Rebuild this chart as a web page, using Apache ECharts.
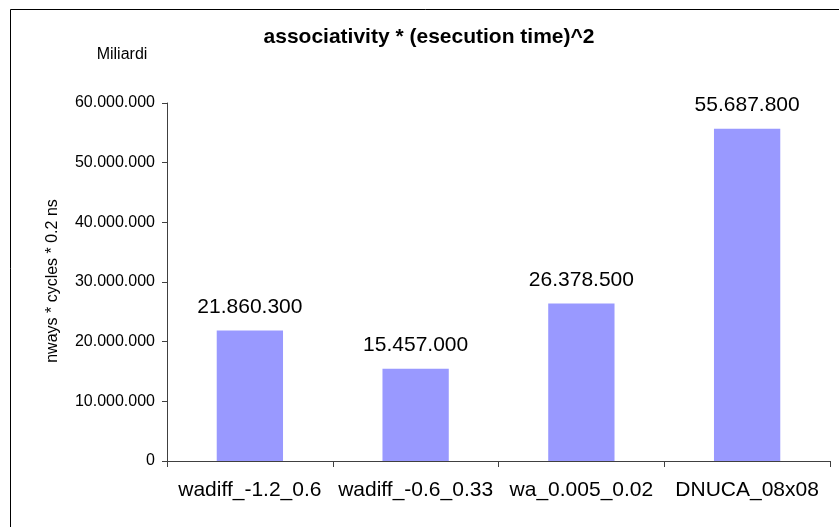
<!DOCTYPE html>
<html>
<head>
<meta charset="utf-8">
<script src="https://cdn.jsdelivr.net/npm/echarts@6/dist/echarts.min.js"></script>
<style>html,body{margin:0;padding:0;background:#fff}#c{width:839px;height:527px}</style>
</head>
<body>
<div id="c"></div>
<script>
var categories = ['wadiff_-1.2_0.6', 'wadiff_-0.6_0.33', 'wa_0.005_0.02', 'DNUCA_08x08'];
var values = [21860300, 15457000, 26378500, 55687800];
var yTicks = [0, 10000000, 20000000, 30000000, 40000000, 50000000, 60000000];
var titleText = 'associativity * (esecution time)^2';
var unitText = 'Miliardi';
var yName = 'nways * cycles * 0.2 ns';

function fmt(v) {
  return String(Math.round(v)).replace(/\B(?=(\d{3})+(?!\d))/g, '.');
}
var FONT = 'Liberation Sans, Arial, sans-serif';
var chart = echarts.init(document.getElementById('c'), null, {renderer: 'canvas'});
chart.setOption({
  animation: false,
  backgroundColor: '#fff',
  graphic: [
    {type: 'rect', left: 8, top: 7, shape: {x: 0, y: 0, width: 900, height: 700},
     style: {fill: 'none', stroke: '#000', lineWidth: 1}, silent: true, z: 100},
    {type: 'text', x: 429, y: 37,
     style: {text: titleText, font: 'bold 21px ' + FONT, fill: '#000', align: 'center', verticalAlign: 'middle'}},
    {type: 'text', x: 122, y: 55,
     style: {text: unitText, font: '16px ' + FONT, fill: '#000', align: 'center', verticalAlign: 'middle'}},
    {type: 'text', x: 53, y: 281, rotation: Math.PI / 2,
     style: {text: yName, font: '16px ' + FONT, fill: '#000', align: 'center', verticalAlign: 'middle'}}
  ],
  grid: {left: 167, top: 103, right: 9, bottom: 66, containLabel: false},
  xAxis: {
    type: 'category', data: categories,
    axisLine: {lineStyle: {color: '#404040', width: 1}},
    axisTick: {show: true, length: 6, alignWithLabel: false, lineStyle: {color: '#404040'}},
    axisLabel: {fontFamily: FONT, fontSize: 21, color: '#000', margin: 19, interval: 0}
  },
  yAxis: {
    type: 'value', min: yTicks[0], max: yTicks[yTicks.length - 1], interval: 10000000,
    axisLine: {show: true, lineStyle: {color: '#404040', width: 1}},
    axisTick: {show: true, length: 5, lineStyle: {color: '#404040'}},
    splitLine: {show: false},
    axisLabel: {fontFamily: FONT, fontSize: 16, color: '#000', margin: 12, formatter: fmt}
  },
  series: [{
    type: 'bar', data: values, barWidth: '40%',
    itemStyle: {color: '#9999ff'},
    label: {show: true, position: 'top', distance: 13, fontFamily: FONT, fontSize: 21, color: '#000',
      formatter: function (p) { return fmt(p.value); }}
  }]
});
</script>
</body>
</html>
